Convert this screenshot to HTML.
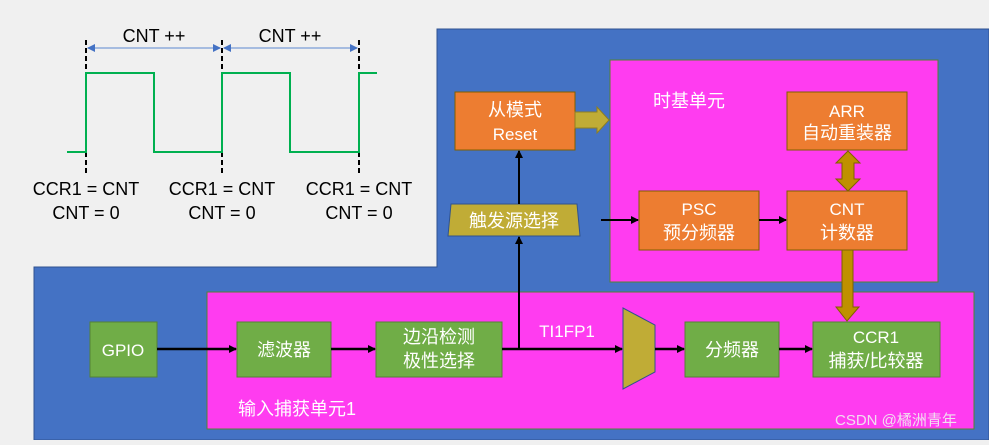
<!DOCTYPE html>
<html><head><meta charset="utf-8"><style>
body{margin:0;background:#f0f0f0;}
svg text{font-family:"Liberation Sans","Noto Sans CJK SC",sans-serif;}
</style></head><body>
<svg width="989" height="440" xmlns="http://www.w3.org/2000/svg">
<defs>
<marker id="a" markerWidth="8" markerHeight="8" refX="7" refY="4" orient="auto" markerUnits="userSpaceOnUse"><path d="M0,0 L8,4 L0,8 z" fill="#000"/></marker>
<marker id="b" markerWidth="8" markerHeight="8" refX="7" refY="4" orient="auto-start-reverse" markerUnits="userSpaceOnUse"><path d="M0,0 L8,4 L0,8 z" fill="#4472c4"/></marker>
</defs>
<rect width="989" height="440" fill="#f0f0f0"/>
<path d="M437,29 H989 V440 H34 V267 H437 Z" fill="#4472c4" stroke="#2f528f"/>
<!-- waveform -->
<g stroke="#000" stroke-width="2" stroke-dasharray="5,3">
<line x1="86" y1="40" x2="86" y2="173"/><line x1="222" y1="40" x2="222" y2="173"/><line x1="359" y1="40" x2="359" y2="173"/></g>
<polyline points="67,152 86,152 86,73 154,73 154,152 222,152 222,73 290,73 290,152 359,152 359,73 377,73" fill="none" stroke="#00b050" stroke-width="2"/>
<line x1="88" y1="48" x2="220" y2="48" stroke="#8eaadb" stroke-width="1.5" marker-start="url(#b)" marker-end="url(#b)"/>
<line x1="224" y1="48" x2="357" y2="48" stroke="#8eaadb" stroke-width="1.5" marker-start="url(#b)" marker-end="url(#b)"/>
<g font-size="18" fill="#000" text-anchor="middle">
<text x="154" y="42">CNT ++</text><text x="290" y="42">CNT ++</text>
<text x="86" y="195">CCR1 = CNT</text><text x="86" y="219">CNT = 0</text>
<text x="222" y="195">CCR1 = CNT</text><text x="222" y="219">CNT = 0</text>
<text x="359" y="195">CCR1 = CNT</text><text x="359" y="219">CNT = 0</text></g>
<!-- time base -->
<rect x="610" y="60" width="328" height="222" fill="#ff3cf0" stroke="#548235"/>
<text x="653" y="107" font-size="18" fill="#fff">时基单元</text>
<rect x="455" y="92" width="120" height="58" fill="#ed7d31" stroke="#7f6000"/>
<text x="515" y="116" font-size="18" fill="#fff" text-anchor="middle">从模式</text>
<text x="515" y="140" font-size="17" fill="#fff" text-anchor="middle">Reset</text>
<path d="M575,112 H597 V107 L609,120 L597,133 V128 H575 Z" fill="#c0ac36" stroke="#8f7f20"/>
<path d="M451,204 H577 L580,236 H448 Z" fill="#c0ac36" stroke="#2f528f"/>
<text x="514" y="227" font-size="18" fill="#fff" text-anchor="middle">触发源选择</text>
<rect x="787" y="92" width="120" height="58" fill="#ed7d31" stroke="#7f6000"/>
<text x="847" y="117" font-size="17" fill="#fff" text-anchor="middle">ARR</text>
<text x="847" y="139" font-size="18" fill="#fff" text-anchor="middle">自动重装器</text>
<rect x="639" y="191" width="120" height="59" fill="#ed7d31" stroke="#7f6000"/>
<text x="699" y="215" font-size="17" fill="#fff" text-anchor="middle">PSC</text>
<text x="699" y="239" font-size="18" fill="#fff" text-anchor="middle">预分频器</text>
<rect x="787" y="191" width="120" height="59" fill="#ed7d31" stroke="#7f6000"/>
<text x="847" y="215" font-size="17" fill="#fff" text-anchor="middle">CNT</text>
<text x="847" y="239" font-size="18" fill="#fff" text-anchor="middle">计数器</text>
<path d="M848,151 L860,163 H854 V179 H860 L848,191 L836,179 H842 V163 H836 Z" fill="#bf9000" stroke="#7f6000"/>
<line x1="601" y1="220" x2="638" y2="220" stroke="#000" stroke-width="2" marker-end="url(#a)"/>
<line x1="759" y1="220" x2="786" y2="220" stroke="#000" stroke-width="2" marker-end="url(#a)"/>
<!-- input capture -->
<rect x="207" y="292" width="767" height="137" fill="#ff3cf0" stroke="#548235"/>
<path d="M842,250 H853 V307 H859 L847,321 L836,307 H842 Z" fill="#bf9000" stroke="#7f6000"/>
<text x="238" y="415" font-size="18" fill="#fff">输入捕获单元1</text>
<text x="835" y="425" font-size="15" fill="#f0f0f0" opacity="0.9">CSDN @橘洲青年</text>
<g fill="#70ad47" stroke="#548235">
<rect x="90" y="322" width="67" height="55"/><rect x="237" y="322" width="94" height="55"/>
<rect x="376" y="322" width="126" height="55"/><rect x="685" y="322" width="94" height="55"/>
<rect x="813" y="322" width="127" height="55"/></g>
<path d="M623,308 L655,325 V372 L623,389 Z" fill="#c0ac36" stroke="#2f528f"/>
<g font-size="18" fill="#fff" text-anchor="middle">
<text x="123" y="356" font-size="17">GPIO</text><text x="284" y="356">滤波器</text>
<text x="439" y="343">边沿检测</text><text x="439" y="367">极性选择</text>
<text x="732" y="356">分频器</text>
<text x="876" y="343" font-size="17">CCR1</text><text x="876" y="367">捕获/比较器</text>
<text x="567" y="337" font-size="17">TI1FP1</text></g>
<g stroke="#000" stroke-width="2.5">
<line x1="157" y1="349" x2="236" y2="349" marker-end="url(#a)"/>
<line x1="331" y1="349" x2="375" y2="349" marker-end="url(#a)"/>
<line x1="502" y1="349" x2="622" y2="349" marker-end="url(#a)"/>
<line x1="655" y1="349" x2="684" y2="349" marker-end="url(#a)"/>
<line x1="779" y1="349" x2="812" y2="349" marker-end="url(#a)"/>
<line x1="519" y1="349" x2="519" y2="237" stroke-width="2" marker-end="url(#a)"/>
<line x1="519" y1="204" x2="519" y2="151" stroke-width="2" marker-end="url(#a)"/></g>
</svg>
</body></html>
